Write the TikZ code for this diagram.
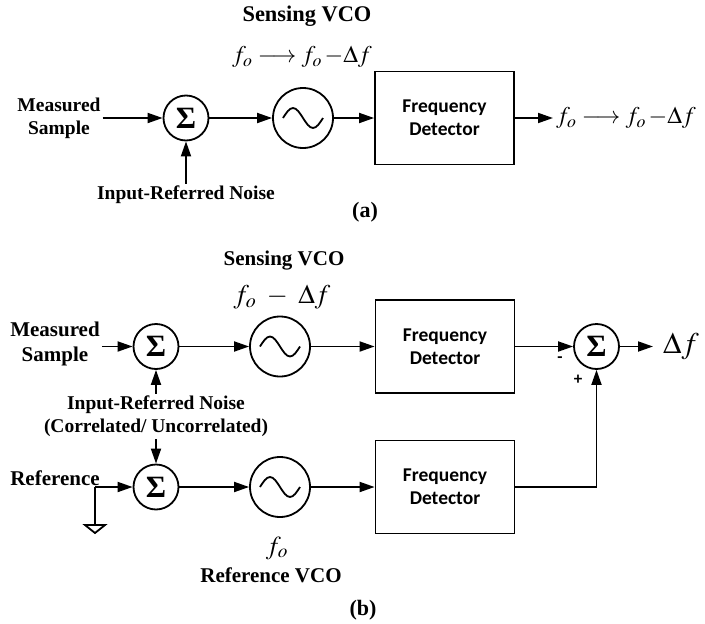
\documentclass[tikz,border=0pt]{standalone}
\usepackage{mathptmx}
\usepackage{fontspec}
\setmainfont{Liberation Serif}
\setsansfont{Carlito}
\usetikzlibrary{arrows.meta}

\tikzset{
    lbl/.style={font=\fontsize{19.5}{23}\selectfont\bfseries, inner sep=2pt, align=center},
    lblb/.style={font=\fontsize{21}{25}\selectfont\bfseries, inner sep=2pt, align=center},
    sumnode/.style={circle, draw, line width=1.8pt, minimum size=45pt, inner sep=0pt, font=\fontsize{31}{31}\selectfont\bfseries},
    vco/.style={circle, draw, line width=1.8pt, minimum size=60pt, inner sep=0pt,
        path picture={\draw[line width=1.8pt] ([xshift=-20pt]path picture bounding box.center)
            sin ++(10pt,10pt) cos ++(10pt,-10pt) sin ++(10pt,-10pt) cos ++(10pt,10pt);}},
    fdbox/.style={draw, line width=1.8pt, minimum width=139pt, minimum height=93pt, align=center,
        font=\sffamily\bfseries\fontsize{19.5}{23}\selectfont},
    sig/.style={line width=1.8pt, -{Triangle[length=15pt,width=10pt]}},
    wire/.style={line width=1.8pt},
    sgn/.style={font=\sffamily\bfseries\fontsize{17}{17}\selectfont, inner sep=0pt}
}

\begin{document}
\begin{tikzpicture}[x=1pt, y=-1pt]
        \useasboundingbox (0,0) rectangle (705,624);

        \node[lbl, font=\fontsize{22.4}{25}\selectfont\bfseries] (titleA) at (307,16) {Sensing VCO};
        \node[font=\fontsize{24}{24}\selectfont] (freqA) at (302,57) {$f_o \longrightarrow f_o\,{-}\Delta f$};
        \node[lbl] (measA) at (59,118) {Measured\\Sample};
        \node[sumnode] (sumA) at (186,118) {Σ};
        \node[vco] (vcoA) at (303,118) {};
        \node[fdbox] (fdA) at (444.5,118) {Frequency\\Detector};
        \node[anchor=west, inner sep=3pt, font=\fontsize{24}{24}\selectfont] (outA) at (553,118) {$f_o \longrightarrow f_o\,{-}\Delta f$};
        \node[lbl] (noiseA) at (186,195) {Input-Referred Noise};
        \node[lblb, font=\fontsize{22}{25}\selectfont\bfseries] (capA) at (365,212) {(a)};

        \draw[sig] (measA) -- (sumA);
        \draw[sig] (sumA) -- (vcoA);
        \draw[sig] (vcoA) -- (fdA);
        \draw[sig] (fdA) -- (outA.west);
        \draw[sig] (noiseA) -- (sumA);

        \node[lblb] (titleB) at (284,261) {Sensing VCO};
        \node[font=\fontsize{27}{27}\selectfont] (freqB) at (282,297) {$f_o\ -\ \Delta f$};
        \node[lblb] (measB) at (55,344) {Measured\\Sample};
        \node[sumnode] (sumB) at (156,346.5) {Σ};
        \node[vco] (vcoB) at (280,346.5) {};
        \node[fdbox] (fdB) at (445,346.5) {Frequency\\Detector};
        \node[sumnode] (sumC) at (596.5,346.5) {Σ};
        \node[anchor=west, inner sep=10pt, font=\fontsize{30}{30}\selectfont] (outB) at (653,346.5) {$\Delta f$};
        \node[sgn] (minus) at (560,360) {-};
        \node[sgn] (plus) at (578,380) {+};

        \node[lbl] (noiseB) at (156,405) {Input-Referred Noise};
        \node[lbl] (corrB) at (156,428) {(Correlated/ Uncorrelated)};

        \node[lblb] (refD) at (55,478) {Reference};
        \node[sumnode] (sumD) at (156,487) {Σ};
        \node[vco] (vcoD) at (280,487) {};
        \node[fdbox] (fdD) at (445,487) {Frequency\\Detector};
        \node[font=\fontsize{26}{26}\selectfont] (freqD) at (277,548) {$f_o$};
        \node[lblb] (titleD) at (271,575) {Reference VCO};
        \node[lblb, font=\fontsize{22}{25}\selectfont\bfseries] (capB) at (363,610) {(b)};
        \coordinate (gnd) at (95,487);
        \coordinate (gndbase) at (95,525);

        \draw[sig] (measB.east |- sumB) -- (sumB);
        \draw[sig] (sumB) -- (vcoB);
        \draw[sig] (vcoB) -- (fdB);
        \draw[sig] (fdB) -- (sumC);
        \draw[sig] (sumC) -- (outB.west);
        \draw[sig] (noiseB) -- (sumB);
        \draw[sig] (corrB) -- (sumD);
        \draw[sig] (gnd) -- (sumD);
        \draw[wire] (gnd) -- (gndbase);
        \draw[wire] ([xshift=-10pt]gndbase) -- ([xshift=10pt]gndbase) -- ([yshift=-8pt]gndbase) -- cycle;
        \draw[sig] (sumD) -- (vcoD);
        \draw[sig] (vcoD) -- (fdD);
        \draw[sig] (fdD.east) -| (sumC.south);
    \end{tikzpicture}
\end{document}
